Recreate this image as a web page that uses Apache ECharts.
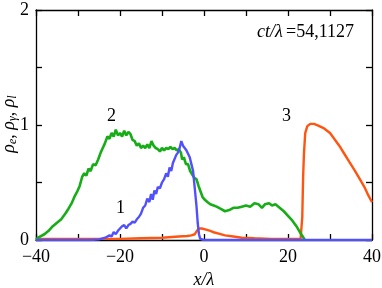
<!DOCTYPE html>
<html><head><meta charset="utf-8">
<script src="https://cdn.jsdelivr.net/npm/echarts@6/dist/echarts.min.js"></script>
<style>html,body{margin:0;padding:0;background:#fff}#c{width:382px;height:288px}</style>
</head><body><div id="c"></div>
<script>
const xTicks = [-40, -30, -20, -10, 0, 10, 20, 30, 40];
const yTicks = [0, 0.5, 1, 1.5, 2];
const curve1Label = "1", curve2Label = "2", curve3Label = "3";
const timeLabel = "=54,1127";

// curve 2 (green)
const green = [[-40,0.0],[-39.5,0.02],[-38,0.05],[-37,0.08],[-36,0.12],[-35,0.15],[-34,0.18],[-33,0.23],[-32.3,0.27],[-31.5,0.32],[-30.8,0.38],[-30.2,0.42],[-29.6,0.47],[-29,0.55],[-28.5,0.58],[-28,0.56],[-27.5,0.62],[-27,0.6],[-26.4,0.66],[-25.8,0.65],[-25.2,0.7],[-24.6,0.76],[-24.1,0.8],[-23.6,0.84],[-23,0.9],[-22.5,0.88],[-22,0.93],[-21.5,0.9],[-21,0.96],[-20.5,0.91],[-20,0.93],[-19.5,0.9],[-19,0.95],[-18.5,0.91],[-18,0.94],[-17.5,0.92],[-17,0.87],[-16.5,0.86],[-16,0.82],[-15.5,0.84],[-15,0.8],[-14.5,0.82],[-14,0.8],[-13.5,0.83],[-13,0.8],[-12.5,0.86],[-12,0.82],[-11.5,0.8],[-11,0.79],[-10.5,0.77],[-10,0.8],[-9.5,0.78],[-9,0.8],[-8.5,0.79],[-8,0.81],[-7.5,0.79],[-7,0.8],[-6.5,0.78],[-6,0.79],[-5.5,0.76],[-5.2,0.7],[-4.8,0.72],[-4.3,0.66],[-3.8,0.66],[-3.3,0.6],[-2.8,0.57],[-2.3,0.54],[-1.8,0.53],[-1.3,0.47],[-0.8,0.42],[-0.3,0.37],[0.2,0.35],[0.8,0.33],[1.5,0.31],[2.3,0.30],[3,0.29],[4,0.27],[5,0.25],[6,0.26],[7,0.28],[8,0.28],[9,0.29],[10,0.30],[11,0.29],[12,0.32],[13,0.31],[13.8,0.28],[14.5,0.31],[15.5,0.32],[16.2,0.30],[17,0.31],[18,0.28],[19,0.25],[20,0.21],[21,0.17],[22,0.12],[22.8,0.07],[23.5,0.03],[24,0]];
// curve 1 (blue)
const blue = [[-40,0],[-30,0],[-27,0],[-25,0.005],[-23.5,0.02],[-22.5,0.04],[-22,0.03],[-21.5,0.07],[-21,0.05],[-20.5,0.08],[-20,0.1],[-19.5,0.12],[-19,0.13],[-18.5,0.1],[-18,0.13],[-17.5,0.14],[-17,0.16],[-16.5,0.15],[-16,0.18],[-15.5,0.2],[-15,0.23],[-14.5,0.28],[-14,0.3],[-13.5,0.36],[-13,0.33],[-12.6,0.4],[-12.2,0.35],[-11.8,0.43],[-11.4,0.4],[-11,0.46],[-10.5,0.45],[-10,0.5],[-9.5,0.53],[-9,0.58],[-8.6,0.55],[-8.2,0.63],[-7.8,0.6],[-7.4,0.67],[-7,0.66],[-6.6,0.74],[-6.2,0.76],[-5.8,0.8],[-5.4,0.86],[-5,0.82],[-4.6,0.8],[-4.2,0.78],[-3.8,0.75],[-3.4,0.72],[-3,0.66],[-2.6,0.6],[-2.2,0.45],[-1.8,0.3],[-1.5,0.15],[-1.2,0.05],[-0.9,0.01],[0,0],[40,0]];
// curve 3 (orange)
const orange = [[-40,0.01],[-30,0.01],[-20,0.01],[-15,0.015],[-10,0.02],[-6,0.03],[-4,0.035],[-3,0.04],[-2.2,0.05],[-1.7,0.08],[-1.2,0.10],[-0.5,0.10],[0.5,0.09],[1.5,0.08],[2.5,0.065],[3.5,0.055],[5,0.04],[7,0.03],[9,0.02],[12,0.015],[16,0.01],[20,0.01],[23,0.01],[23.4,0.2],[23.6,0.55],[23.8,0.75],[24.1,0.93],[24.6,0.99],[25.3,1.01],[26.2,1.01],[27.2,0.995],[28.6,0.97],[30,0.93],[31,0.88],[32.2,0.82],[33.4,0.75],[34.6,0.68],[35.8,0.61],[37,0.535],[38.2,0.46],[39.1,0.39],[40,0.33]];

const FONT = "Liberation Serif";
const FS = 18;
const chart = echarts.init(document.getElementById('c'), null, {renderer:'canvas'});
const axLine = {show:true, onZero:false, lineStyle:{color:'#000', width:1.3}};
const tick = {show:true, inside:true, length:6, lineStyle:{color:'#000', width:1.3}};
const xBase = {type:'value', min:xTicks[0], max:xTicks[xTicks.length-1], interval:xTicks[1]-xTicks[0],
  axisLine:axLine, axisTick:tick, splitLine:{show:false}};
const yBase = {type:'value', min:yTicks[0], max:yTicks[yTicks.length-1], interval:yTicks[1]-yTicks[0],
  axisLine:axLine, axisTick:tick, splitLine:{show:false}};
chart.setOption({
  animation:false,
  grid:{left:36, right:10, top:10, bottom:48, containLabel:false, outerBoundsMode:'none'},
  xAxis:[
    Object.assign({}, xBase, {position:'bottom',
      name:'x/λ', nameLocation:'middle', nameGap:29,
      nameTextStyle:{fontFamily:FONT, fontSize:FS, fontStyle:'italic', color:'#000'},
      axisLabel:{fontFamily:FONT, fontSize:FS, color:'#000', margin:8,
        formatter:v => (Math.abs(v)%20===0 ? (v<0 ? '\u2212'+(-v) : ''+v) : '')}}),
    Object.assign({}, xBase, {position:'top', axisLabel:{show:false}})
  ],
  yAxis:[
    Object.assign({}, yBase, {position:'left',
      axisLabel:{fontFamily:FONT, fontSize:FS, color:'#000', margin:7,
        formatter:v => (v%1===0 ? ''+v : '')}}),
    Object.assign({}, yBase, {position:'right', axisLabel:{show:false}})
  ],
  series:[
    {type:'line', data:orange, showSymbol:false, lineStyle:{color:'#ff5511', width:2.4}, z:2},
    {type:'line', data:green, showSymbol:false, lineStyle:{color:'#17ad17', width:2.6}, z:3},
    {type:'line', data:blue, showSymbol:false, lineStyle:{color:'#5050ff', width:2.4}, z:4}
  ],
  graphic:[
    {type:'text', x:9, y:124, rotation:Math.PI/2, style:{
      text:'{i|ρ}{s|e}{n|, }{i|ρ}{s|γ}{n|, }{i|ρ}{s|l}', align:'center', verticalAlign:'middle',
      rich:{i:{fontFamily:FONT, fontSize:FS, fontStyle:'italic', fill:'#000'},
            n:{fontFamily:FONT, fontSize:FS, fill:'#000'},
            s:{fontFamily:FONT, fontSize:12, fontStyle:'italic', fill:'#000', padding:[7,0,0,0]}}}},
    {type:'text', left:107, top:107, style:{text:curve2Label, font:FS+'px "'+FONT+'"', fill:'#000'}},
    {type:'text', left:116, top:199, style:{text:curve1Label, font:FS+'px "'+FONT+'"', fill:'#000'}},
    {type:'text', left:282, top:107, style:{text:curve3Label, font:FS+'px "'+FONT+'"', fill:'#000'}},
    {type:'text', left:257, top:23, style:{
      text:'{i|ct/λ} {n|'+timeLabel+'}',
      rich:{i:{fontFamily:FONT, fontSize:FS, fontStyle:'italic', fill:'#000'},
            n:{fontFamily:FONT, fontSize:FS, fill:'#000'}}}}
  ]
});
</script></body></html>
